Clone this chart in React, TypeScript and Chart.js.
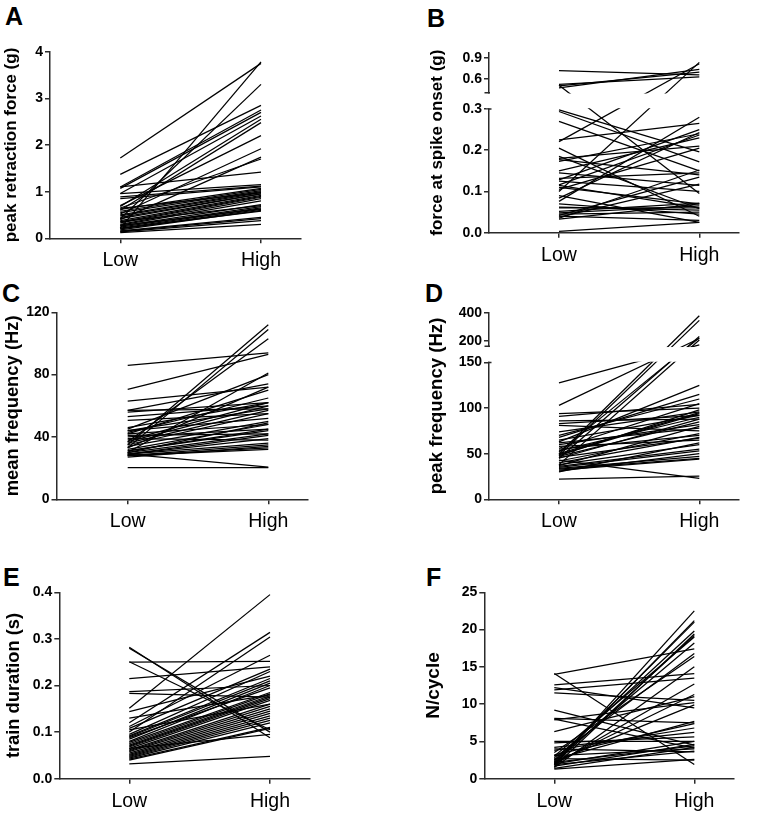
import React, { useEffect, useRef } from "react";
import { Chart, registerables } from "chart.js";

Chart.register(...registerables);

const W = 771;
const H = 814;
const FONT = '"Liberation Sans", Arial, Helvetica, sans-serif';
const AX = "#2b2b2b";

const categories = ["Low", "High"];

// A: peak retraction force (g)
const aLow = [1.72, 1.37, 0.22, 0.42, 1.10, 1.07, 0.96, 0.68, 0.60, 0.70, 0.52, 0.40, 1.10, 0.96, 0.89, 0.85, 0.65, 0.62, 0.58, 0.55, 0.50, 0.48, 0.42, 0.38, 0.35, 0.33, 0.30, 0.28, 0.26, 0.24, 0.22, 0.20, 0.18, 0.16, 0.15, 0.14, 0.12, 0.21, 0.27, 0.36, 0.45, 0.64];
const aHigh = [3.75, 2.85, 3.78, 3.30, 2.75, 2.70, 2.62, 2.55, 2.48, 2.20, 1.92, 1.74, 1.42, 1.15, 1.12, 1.10, 1.70, 1.07, 1.05, 1.02, 1.00, 0.98, 0.95, 0.92, 0.90, 0.88, 0.85, 0.80, 0.72, 0.68, 0.65, 0.62, 0.60, 0.45, 0.42, 0.38, 0.30, 0.58, 0.63, 0.70, 0.95, 0.98];
const aTicks = [0, 1, 2, 3, 4];
const aTickLabels = ["0", "1", "2", "3", "4"];

// B: force at spike onset (g) — broken axis
const bLow = [0.72, 0.52, 0.50, 0.47, 0.51, 0.221, 0.10, 0.298, 0.294, 0.270, 0.205, 0.180, 0.177, 0.173, 0.132, 0.128, 0.116, 0.110, 0.084, 0.076, 0.125, 0.060, 0.052, 0.045, 0.035, 0.038, 0.040, 0.003, 0.048, 0.062, 0.105, 0.225, 0.145, 0.090, 0.185, 0.033, 0.070, 0.115, 0.042, 0.150];
const bHigh = [0.66, 0.63, 0.70, 0.74, 0.095, 0.82, 0.84, 0.196, 0.172, 0.150, 0.040, 0.210, 0.140, 0.240, 0.145, 0.250, 0.237, 0.070, 0.243, 0.280, 0.100, 0.060, 0.072, 0.050, 0.152, 0.118, 0.030, 0.025, 0.065, 0.055, 0.205, 0.265, 0.115, 0.025, 0.058, 0.070, 0.045, 0.060, 0.135, 0.230];
const bTicks = [0, 0.1, 0.2, 0.3, 0.6, 0.9];
const bTickLabels = ["0.0", "0.1", "0.2", "0.3", "0.6", "0.9"];

// C: mean frequency (Hz)
const cLow = [86, 70.6, 20.3, 29, 35, 33, 37, 30, 63, 57, 56, 53, 50.7, 45, 44, 43, 42, 42, 41, 38, 37, 36, 35, 34, 32, 31, 30, 29, 29, 28, 28, 28, 27, 44, 46, 40, 39, 30, 31, 57, 33, 29];
const cHigh = [94, 93, 20.3, 20.7, 112, 109, 103, 81, 72, 74, 62, 60, 55, 80, 58, 65, 70, 48, 42, 62, 60, 57, 55, 50, 48, 45, 42, 39, 36, 35, 33, 32, 34, 52, 62, 45, 38, 49, 44, 58, 72, 41];
const cTicks = [0, 40, 80, 120];
const cTickLabels = ["0", "40", "80", "120"];

// D: peak frequency (Hz) — broken axis
const dLow = [127.7, 103, 22, 43, 50, 48, 45, 52, 38, 94, 91, 86, 83, 81, 74, 70, 68, 63, 60, 58, 55, 53, 50, 48, 47, 45, 42, 40, 38, 36, 35, 34, 33, 32, 31, 30, 56, 65, 62, 49, 46, 37];
const dHigh = [170, 215, 25.5, 23, 378, 345, 230, 220, 205, 100, 104, 88, 92, 75, 96, 110, 115, 125, 82, 65, 70, 90, 95, 98, 85, 88, 72, 68, 60, 55, 53, 47, 45, 44, 50, 62, 105, 92, 78, 94, 67, 80];
const dTicks = [0, 50, 100, 150, 200, 400];
const dTickLabels = ["0", "50", "100", "150", "200", "400"];

// E: train duration (s)
const eLow = [0.032, 0.151, 0.282, 0.280, 0.250, 0.251, 0.215, 0.187, 0.183, 0.144, 0.120, 0.100, 0.112, 0.108, 0.095, 0.090, 0.085, 0.080, 0.078, 0.075, 0.072, 0.070, 0.068, 0.065, 0.062, 0.060, 0.058, 0.055, 0.052, 0.050, 0.048, 0.046, 0.044, 0.042, 0.040, 0.105, 0.130, 0.092, 0.088, 0.065];
const eHigh = [0.048, 0.395, 0.088, 0.100, 0.252, 0.105, 0.240, 0.200, 0.175, 0.220, 0.314, 0.304, 0.265, 0.235, 0.230, 0.210, 0.205, 0.200, 0.185, 0.182, 0.178, 0.175, 0.172, 0.168, 0.160, 0.155, 0.150, 0.145, 0.140, 0.135, 0.130, 0.125, 0.120, 0.110, 0.108, 0.160, 0.180, 0.215, 0.195, 0.095];
const eTicks = [0, 0.1, 0.2, 0.3, 0.4];
const eTickLabels = ["0.0", "0.1", "0.2", "0.3", "0.4"];

// F: N/cycle
const fLow = [14.1, 14.0, 12.6, 11.9, 11.5, 9.2, 8.1, 7.9, 6.3, 5.0, 1.8, 2.0, 2.2, 2.5, 1.6, 2.0, 3.0, 2.4, 3.5, 2.8, 1.5, 1.9, 2.1, 2.3, 2.6, 3.2, 3.8, 4.2, 4.8, 2.0, 1.7, 1.4, 2.2, 3.1, 1.9, 8.0, 2.7, 4.0, 12.2, 1.3];
const fHigh = [1.9, 17.4, 14.1, 13.5, 10.5, 4.5, 7.5, 10.2, 11.0, 5.0, 22.5, 21.2, 21.0, 19.8, 19.4, 19.2, 19.0, 18.2, 16.4, 16.8, 15.0, 12.7, 11.3, 9.9, 7.7, 7.4, 6.8, 6.2, 5.6, 5.0, 4.6, 4.2, 4.4, 4.0, 3.7, 4.1, 2.5, 3.6, 9.5, 2.6];
const fTicks = [0, 5, 10, 15, 20, 25];
const fTickLabels = ["0", "5", "10", "15", "20", "25"];

type Brk = { lowMax: number; upMin: number; upMax: number; gap: number; ratio: number };

type Spec = {
  letter: string;
  letterX: number;
  letterY: number;
  title: string;
  titleSize: number;
  titleCenter: number;
  low: number[];
  high: number[];
  ticks: number[];
  tickLabels: string[];
  yMax: number;
  axisX: number;
  lowX: number;
  highX: number;
  yTop: number;
  yBottom: number;
  brk?: Brk;
};

const specs: Spec[] = [
  { letter: "A", letterX: 5, letterY: 7, title: "peak retraction force (g)", titleSize: 17, titleCenter: 11,
    low: aLow, high: aHigh, ticks: aTicks, tickLabels: aTickLabels, yMax: 4,
    axisX: 50, lowX: 120.3, highX: 261, yTop: 51.7, yBottom: 238.3 },
  { letter: "B", letterX: 427, letterY: 9, title: "force at spike onset (g)", titleSize: 17, titleCenter: 437.5,
    low: bLow, high: bHigh, ticks: bTicks, tickLabels: bTickLabels, yMax: 0.98,
    axisX: 489, lowX: 559, highX: 699.3, yTop: 52.7, yBottom: 232.7,
    brk: { lowMax: 0.3, upMin: 0.4, upMax: 0.98, gap: 0.0395, ratio: 0.1674 } },
  { letter: "C", letterX: 2, letterY: 284, title: "mean frequency (Hz)", titleSize: 18.4, titleCenter: 13,
    low: cLow, high: cHigh, ticks: cTicks, tickLabels: cTickLabels, yMax: 120,
    axisX: 56.5, lowX: 127.7, highX: 268.3, yTop: 312.3, yBottom: 499.3 },
  { letter: "D", letterX: 425, letterY: 284, title: "peak frequency (Hz)", titleSize: 18.6, titleCenter: 437,
    low: dLow, high: dHigh, ticks: dTicks, tickLabels: dTickLabels, yMax: 400,
    axisX: 489, lowX: 559, highX: 699.3, yTop: 312.7, yBottom: 499.3,
    brk: { lowMax: 150, upMin: 160, upMax: 400, gap: 17.85, ratio: 0.1533 } },
  { letter: "E", letterX: 3, letterY: 568, title: "train duration (s)", titleSize: 18.3, titleCenter: 14,
    low: eLow, high: eHigh, ticks: eTicks, tickLabels: eTickLabels, yMax: 0.4,
    axisX: 59.3, lowX: 129.3, highX: 270, yTop: 592.3, yBottom: 778.7 },
  { letter: "F", letterX: 426, letterY: 568, title: "N/cycle", titleSize: 19, titleCenter: 434,
    low: fLow, high: fHigh, ticks: fTicks, tickLabels: fTickLabels, yMax: 25,
    axisX: 484.3, lowX: 554.3, highX: 694.3, yTop: 592.3, yBottom: 778.7 },
];

const X_RIGHT = 1.28;
const HX = 34;

function makeTransform(brk?: Brk) {
  return (v: number) => {
    if (!brk) return v;
    if (v <= brk.lowMax) return v;
    if (v >= brk.upMin) return brk.lowMax + brk.gap + (v - brk.upMin) * brk.ratio;
    return brk.lowMax + ((v - brk.lowMax) / (brk.upMin - brk.lowMax)) * brk.gap;
  };
}

function Panel({ spec }: { spec: Spec }) {
  const ref = useRef<HTMLCanvasElement | null>(null);
  useEffect(() => {
    if (!ref.current) return;
    const s = spec;
    const toD = makeTransform(s.brk);
    const unit = s.highX - s.lowX;
    const xMin = -(s.lowX - s.axisX) / unit;
    const areaRight = s.lowX + X_RIGHT * unit;
    const lh = s.titleSize * 1.2;
    const padLeft = s.titleCenter - lh / 2;
    const WY = s.axisX - padLeft;

    const datasets = s.low.map((lo, i) => ({
      data: [
        { x: 0, y: toD(lo) },
        { x: 1, y: toD(s.high[i]) },
      ],
      showLine: true,
      borderColor: "#000",
      borderWidth: 1.25,
      pointRadius: 0,
      pointHoverRadius: 0,
      fill: false,
    }));

    const plugins: any[] = [];
    if (s.brk) {
      const brk = s.brk;
      plugins.push({
        id: "axisBreak",
        afterDraw(chart: any) {
          const y = chart.scales.y;
          const ca = chart.chartArea;
          const ctx = chart.ctx;
          const yLowTop = y.getPixelForValue(toD(brk.lowMax));
          const yUpBottom = y.getPixelForValue(toD(brk.upMin));
          const ax = ca.left;
          ctx.save();
          ctx.fillStyle = "#fff";
          ctx.fillRect(ax - 3, yUpBottom + 0.8, ca.right - ax + 6, yLowTop - yUpBottom - 1.6);
          ctx.strokeStyle = AX;
          ctx.lineWidth = 1.5;
          ctx.beginPath();
          ctx.moveTo(ax - 4.5, yUpBottom);
          ctx.lineTo(ax + 1, yUpBottom);
          ctx.moveTo(ax - 1, yLowTop);
          ctx.lineTo(ax + 2.5, yLowTop);
          ctx.stroke();
          ctx.restore();
        },
      });
    }

    const chart = new Chart(ref.current, {
      type: "scatter",
      data: { datasets },
      plugins,
      options: {
        animation: false,
        responsive: false,
        maintainAspectRatio: false,
        events: [],
        layout: {
          padding: {
            left: padLeft,
            top: s.yTop,
            right: W - areaRight,
            bottom: H - s.yBottom - HX,
          },
        },
        plugins: {
          legend: { display: false },
          tooltip: { enabled: false },
          title: { display: false },
        },
        scales: {
          x: {
            type: "linear",
            position: "bottom",
            min: xMin,
            max: X_RIGHT,
            afterFit: (sc: any) => {
              sc.height = HX;
            },
            afterBuildTicks: (sc: any) => {
              sc.ticks = categories.map((_, i) => ({ value: i }));
            },
            grid: { display: true, drawOnChartArea: false, drawTicks: true, tickLength: 5, color: AX, lineWidth: 1.5 },
            border: { display: true, color: AX, width: 1.5 },
            ticks: {
              callback: (_v: any, i: number) => categories[i],
              font: { family: FONT, size: 19.5 },
              color: "#000",
              padding: 6,
              maxRotation: 0,
              autoSkip: false,
            },
          },
          y: {
            type: "linear",
            position: "left",
            min: 0,
            max: toD(s.yMax),
            afterFit: (sc: any) => {
              sc.width = WY;
            },
            afterBuildTicks: (sc: any) => {
              sc.ticks = s.ticks.map((v) => ({ value: toD(v) }));
            },
            grid: { display: true, drawOnChartArea: false, drawTicks: true, tickLength: 5, color: AX, lineWidth: 1.5 },
            border: { display: true, color: AX, width: 1.5 },
            ticks: {
              callback: (_v: any, i: number) => s.tickLabels[i],
              font: { family: FONT, size: 14, weight: "bold" },
              color: "#000",
              padding: 2,
              autoSkip: false,
            },
            title: {
              display: true,
              text: s.title,
              font: { family: FONT, size: s.titleSize, weight: "bold", lineHeight: 1.2 },
              color: "#000",
              padding: { top: 0, bottom: 0 },
            },
          },
        },
      } as any,
    });
    return () => chart.destroy();
  }, [spec]);

  return (
    <canvas
      ref={ref}
      width={W}
      height={H}
      style={{ position: "absolute", left: 0, top: 0, width: W, height: H }}
    />
  );
}

export default function App() {
  return (
    <div style={{ position: "absolute", left: 0, top: 0, width: W, height: H, background: "#fff", overflow: "hidden" }}>
      {specs.map((s) => (
        <div
          key={"l" + s.letter}
          style={{
            position: "absolute",
            left: s.letterX,
            top: s.letterY - 3.3,
            fontFamily: FONT,
            fontWeight: "bold",
            fontSize: 25,
            lineHeight: "25px",
            color: "#000",
          }}
        >
          {s.letter}
        </div>
      ))}
      {specs.map((s) => (
        <Panel key={s.letter} spec={s} />
      ))}
    </div>
  );
}
